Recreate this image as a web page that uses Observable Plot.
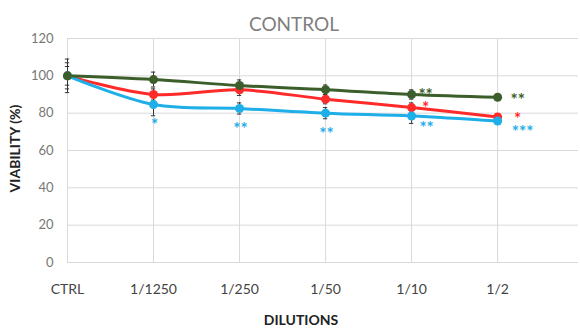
<!DOCTYPE html>
<html>
<head>
<meta charset="utf-8">
<script src="https://cdn.jsdelivr.net/npm/d3@7"></script>
<script src="https://cdn.jsdelivr.net/npm/@observablehq/plot@0.6"></script>
<style>
  body { margin: 0; background: #fff; }
</style>
</head>
<body>
<div id="chart"></div>
<script>
// Cell viability (%) across dilutions, three treatments
const dilutions = ["CTRL", "1/1250", "1/250", "1/50", "1/10", "1/2"];
const yTicks = [0, 20, 40, 60, 80, 100, 120];

const seriesNames = ["Treatment A", "Treatment B", "Treatment C"];
const seriesColors = ["#3b5e2b", "#ff2a2a", "#1eaee8"];

const valuesA = [100, 98, 94.8, 92.6, 90, 88.5];
const valuesB = [100, 90, 92.5, 87.5, 83, 78];
const valuesC = [100, 84.6, 82.5, 80, 78.5, 75.8];

const errorsA = [5, 4, 3, 2.5, 2.5, 1.5];
const errorsB = [7, 3, 3, 2.5, 2.5, 1.5];
const errorsC = [9, 6, 3, 3, 4, 1.5];

const starsA = ["", "", "", "", "**", "**"];
const starsB = ["", "", "", "", "*", "*"];
const starsC = ["", "*", "**", "**", "**", "***"];

function rowsFor(series, values, errors, stars) {
  return dilutions.map((d, i) => ({ series, i, dilution: d, value: values[i], err: errors[i], stars: stars[i] }));
}
// drawing order: B, C, then A on top
const rows = [
  ...rowsFor(seriesNames[1], valuesB, errorsB, starsB),
  ...rowsFor(seriesNames[2], valuesC, errorsC, starsC),
  ...rowsFor(seriesNames[0], valuesA, errorsA, starsA)
];
const starRows = rows.filter(d => d.stars);
const isC = d => d.series === seriesNames[2];

// significance marks, grouped by where they sit around their point
function stars(filter, dx, dy) {
  return Plot.text(starRows.filter(filter), {
    x: "i", y: "value", text: "stars", fill: "series",
    fontSize: 17, fontWeight: "bold", dx, dy
  });
}

const chart = Plot.plot({
  width: 580,
  height: 330,
  marginLeft: 67,
  marginRight: 2,
  marginTop: 38,
  marginBottom: 68,
  style: { fontFamily: "Lato, 'Open Sans', sans-serif", background: "#fff", overflow: "visible" },
  x: { type: "linear", domain: [0, 5.94], label: null },
  y: { domain: [0, 120], label: null },
  color: { domain: seriesNames, range: seriesColors },
  marks: [
    Plot.ruleY(yTicks, { stroke: "#d9d9d9", strokeWidth: 1 }),
    Plot.ruleX(d3.range(dilutions.length), { y1: 0, y2: 120, stroke: "#d9d9d9", strokeWidth: 1 }),
    Plot.axisY({ ticks: yTicks, tickSize: 0, tickPadding: 14, fontSize: 13, fill: "#777", label: null }),
    Plot.axisX({ ticks: d3.range(dilutions.length), tickFormat: i => dilutions[i], tickSize: 0, tickPadding: 22, fontSize: 14, fill: "#444", label: null }),
    // error bars
    Plot.ruleX(rows, { x: "i", y1: d => d.value - d.err, y2: d => d.value + d.err, stroke: "#333", strokeWidth: 1 }),
    Plot.ruleY(rows, { y: d => d.value + d.err, x1: d => d.i - 0.025, x2: d => d.i + 0.025, stroke: "#333", strokeWidth: 1 }),
    Plot.ruleY(rows, { y: d => d.value - d.err, x1: d => d.i - 0.025, x2: d => d.i + 0.025, stroke: "#333", strokeWidth: 1 }),
    // smoothed lines and markers
    Plot.line(rows, { x: "i", y: "value", z: "series", stroke: "series", strokeWidth: 3, curve: "catmull-rom" }),
    Plot.dot(rows, { x: "i", y: "value", fill: "series", r: 4.5 }),
    // significance marks
    stars(d => isC(d) && d.i < 4, 1, 21),
    stars(d => isC(d) && d.i === 4, 15, 13),
    stars(d => isC(d) && d.i === 5, 25, 12),
    stars(d => !isC(d) && d.i === 4, 14, 1),
    stars(d => !isC(d) && d.i === 5, 20, 3),
    // titles
    Plot.text(["CONTROL"], { frameAnchor: "top", dx: -29, dy: -21, fontSize: 19, fill: "#7f7f7f" }),
    Plot.text(["VIABILITY (%)"], { frameAnchor: "left", textAnchor: "middle", rotate: -90, dx: -52, dy: -2, fontSize: 14, fontWeight: "bold", fill: "#222" }),
    Plot.text(["DILUTIONS"], { frameAnchor: "bottom", dx: -22, dy: 62, fontSize: 14, fontWeight: "bold", fill: "#222" })
  ]
});
document.getElementById("chart").append(chart);
</script>
</body>
</html>
